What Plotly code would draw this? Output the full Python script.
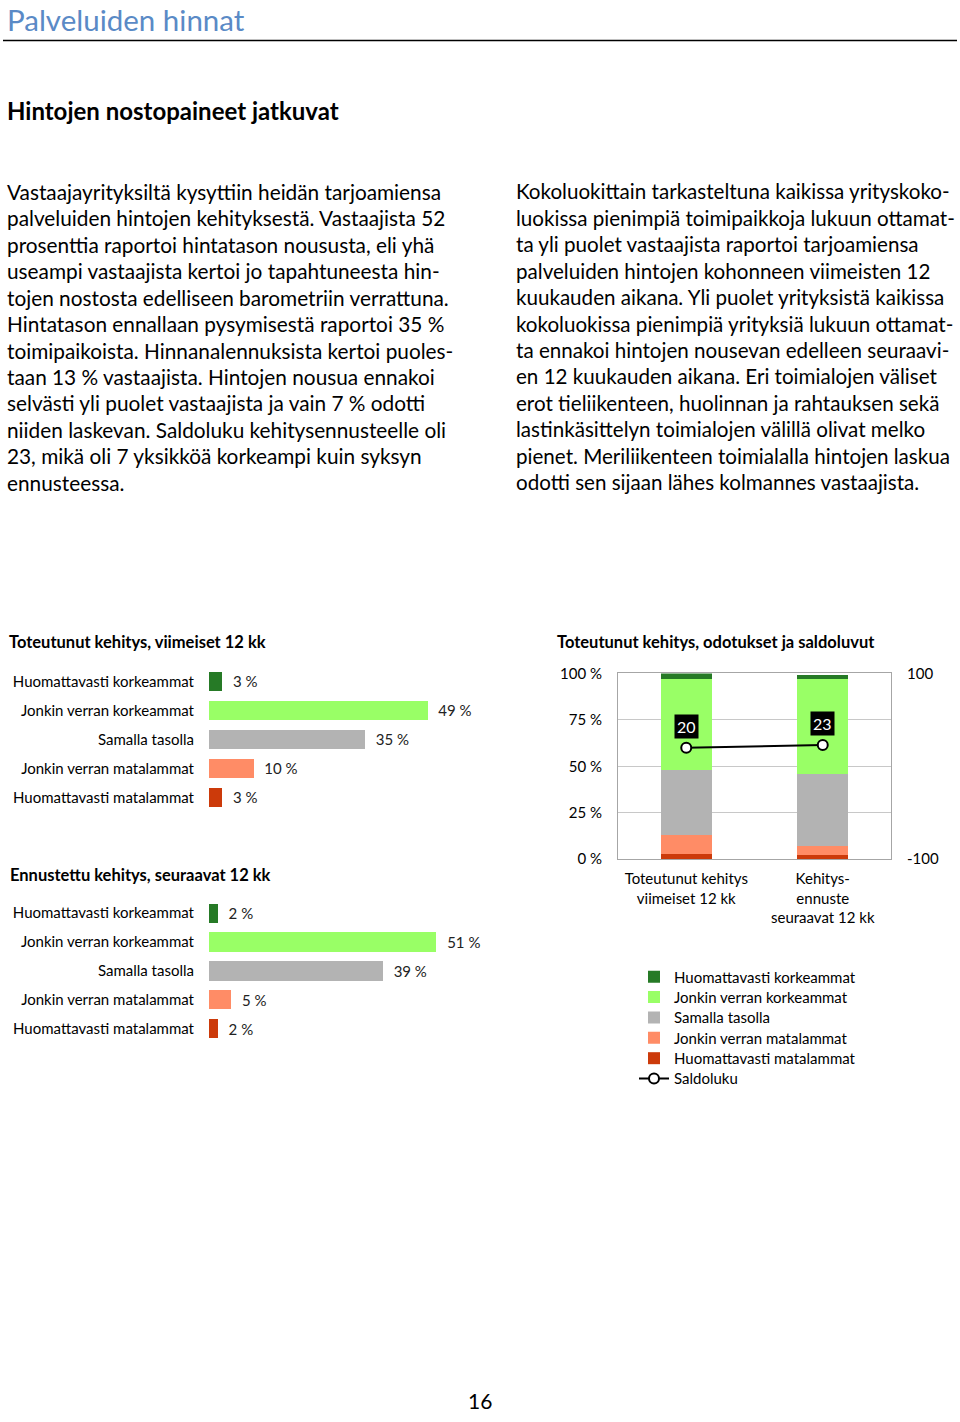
import plotly.graph_objects as go

FONT = "Lato, sans-serif"

# ---------------- data ----------------
categories = ["Huomattavasti korkeammat", "Jonkin verran korkeammat", "Samalla tasolla",
              "Jonkin verran matalammat", "Huomattavasti matalammat"]
realized = [3, 49, 35, 10, 3]
forecast = [2, 51, 39, 5, 2]
colors = ["#267a26", "#99ff66", "#b3b3b3", "#ff8c66", "#cc3a0a"]
stack_categories = ["Toteutunut kehitys<br>viimeiset 12 kk", "Kehitys-<br>ennuste<br>seuraavat 12 kk"]
saldo = [20, 23]
pct_ticks = [0, 25, 50, 75, 100]
pct_ticktext = ["0 %", "25 %", "50 %", "75 %", "100 %"]
saldo_ticks = [-100, 100]
saldo_ticktext = ["-100", "100"]

page_title = "Palveluiden hinnat"
heading = "Hintojen nostopaineet jatkuvat"
chart1_title = "Toteutunut kehitys, viimeiset 12 kk"
chart2_title = "Ennustettu kehitys, seuraavat 12 kk"
chart3_title = "Toteutunut kehitys, odotukset ja saldoluvut"
page_number = "16"

left_lines = [
    "Vastaajayrityksiltä kysyttiin heidän tarjoamiensa",
    "palveluiden hintojen kehityksestä. Vastaajista 52",
    "prosenttia raportoi hintatason noususta, eli yhä",
    "useampi vastaajista kertoi jo tapahtuneesta hin-",
    "tojen nostosta edelliseen barometriin verrattuna.",
    "Hintatason ennallaan pysymisestä raportoi 35 %",
    "toimipaikoista. Hinnanalennuksista kertoi puoles-",
    "taan 13 % vastaajista. Hintojen nousua ennakoi",
    "selvästi yli puolet vastaajista ja vain 7 % odotti",
    "niiden laskevan. Saldoluku kehitysennusteelle oli",
    "23, mikä oli 7 yksikköä korkeampi kuin syksyn",
    "ennusteessa.",
]
right_lines = [
    "Kokoluokittain tarkasteltuna kaikissa yrityskoko-",
    "luokissa pienimpiä toimipaikkoja lukuun ottamat-",
    "ta yli puolet vastaajista raportoi tarjoamiensa",
    "palveluiden hintojen kohonneen viimeisten 12",
    "kuukauden aikana. Yli puolet yrityksistä kaikissa",
    "kokoluokissa pienimpiä yrityksiä lukuun ottamat-",
    "ta ennakoi hintojen nousevan edelleen seuraavi-",
    "en 12 kuukauden aikana. Eri toimialojen väliset",
    "erot tieliikenteen, huolinnan ja rahtauksen sekä",
    "lastinkäsittelyn toimialojen välillä olivat melko",
    "pienet. Meriliikenteen toimialalla hintojen laskua",
    "odotti sen sijaan lähes kolmannes vastaajista.",
]

W, H = 960, 1422
# measured page offset/scale of the photographed page (vertical)
OFF, SC = 8.4, 0.989


def px(x):
    return x / W


def py(y):
    return 1 - ((y - OFF) / SC) / H


fig = go.Figure()

# ---------------- chart 1 & 2: horizontal bars ----------------
for vals, xa, ya in [(realized, "x", "y"), (forecast, "x2", "y2")]:
    fig.add_trace(go.Bar(
        y=categories, x=vals, orientation="h",
        marker=dict(color=colors, line=dict(width=0)),
        width=0.66,
        text=[f"\u00a0\u00a0{v} %" for v in vals], textposition="outside",
        textfont=dict(family=FONT, size=15, color="#222"),
        cliponaxis=False, showlegend=False, hoverinfo="skip",
        xaxis=xa, yaxis=ya,
    ))

# ---------------- chart 3: stacked columns ----------------
legend_rows = [977, 997.4, 1017.8, 1038.2, 1058.6, 1079]
for i in reversed(range(len(categories))):
    fig.add_trace(go.Bar(
        x=stack_categories, y=[realized[i], forecast[i]], name=categories[i],
        marker=dict(color=colors[i], line=dict(width=0)), width=0.375,
        xaxis="x3", yaxis="y3", legend="legend" if i == 0 else f"legend{i + 1}",
        hoverinfo="skip",
    ))

fig.add_trace(go.Scatter(
    x=stack_categories, y=saldo, name="Saldoluku", mode="lines+markers",
    line=dict(color="black", width=2),
    marker=dict(symbol="circle", size=10, color="white", line=dict(color="black", width=2)),
    xaxis="x3", yaxis="y4", legend="legend6", hoverinfo="skip",
))

annotations = []
for c, v in zip(stack_categories, saldo):
    annotations.append(dict(
        xref="x3", yref="y4", x=c, y=v, yshift=21, text=str(v), showarrow=False,
        bgcolor="black", font=dict(family=FONT, size=16, color="white"), borderpad=2,
    ))

# ---------------- page texts ----------------
annotations.append(dict(xref="paper", yref="paper", x=px(5), y=py(18), xanchor="left", yanchor="middle",
                        text=page_title, showarrow=False,
                        font=dict(family=FONT, size=29.5, color="#5a8ac6")))
annotations.append(dict(xref="paper", yref="paper", x=px(5), y=py(109), xanchor="left", yanchor="middle",
                        text=f"<b>{heading}</b>", showarrow=False,
                        font=dict(family=FONT, size=24, color="black")))
for k, line in enumerate(left_lines):
    annotations.append(dict(xref="paper", yref="paper", x=px(5), y=py(190 + 26.5 * k),
                            xanchor="left", yanchor="middle", text=line, showarrow=False,
                            font=dict(family=FONT, size=20.8, color="black")))
for k, line in enumerate(right_lines):
    annotations.append(dict(xref="paper", yref="paper", x=px(514), y=py(190 + 26.5 * k),
                            xanchor="left", yanchor="middle", text=line, showarrow=False,
                            font=dict(family=FONT, size=20.6, color="black")))
for t, xx, yy in [(chart1_title, 7, 641), (chart2_title, 8, 875), (chart3_title, 555, 641)]:
    annotations.append(dict(xref="paper", yref="paper", x=px(xx), y=py(yy), xanchor="left", yanchor="middle",
                            text=f"<b>{t}</b>", showarrow=False,
                            font=dict(family=FONT, size=16.5, color="black")))
annotations.append(dict(xref="paper", yref="paper", x=px(480), y=0, xanchor="center", yanchor="bottom",
                        text=page_number, showarrow=False, borderpad=0,
                        font=dict(family=FONT, size=21, color="black")))

shapes = [dict(type="line", xref="paper", yref="paper", x0=px(3), x1=px(957), y0=py(39), y1=py(39),
               line=dict(color="black", width=1.5))]

hbar_x = dict(range=[0, 60], showgrid=False, showticklabels=False, zeroline=False, showline=False, fixedrange=True)
hbar_y = dict(autorange="reversed", showgrid=False, zeroline=False, showline=False,
              ticks="outside", ticklen=11, tickcolor="rgba(0,0,0,0)",
              tickfont=dict(family=FONT, size=15, color="black"))

legends = {}
for k, row in enumerate(legend_rows):
    key = "legend" if k == 0 else f"legend{k + 1}"
    legends[key] = dict(x=px(634), y=py(row), xanchor="left", yanchor="middle",
                        font=dict(family=FONT, size=15, color="black"), bgcolor="rgba(0,0,0,0)",
                        itemwidth=30)

fig.update_layout(
    width=W, height=H, autosize=False,
    margin=dict(l=0, r=0, t=0, b=0),
    paper_bgcolor="white", plot_bgcolor="white",
    barmode="stack",
    font=dict(family=FONT, color="black"),
    xaxis=dict(domain=[px(209), px(209 + 4.46 * 60)], anchor="y", **hbar_x),
    yaxis=dict(domain=[py(811.5), py(666.5)], anchor="x", **hbar_y),
    xaxis2=dict(domain=[px(209), px(209 + 4.46 * 60)], anchor="y2", **hbar_x),
    yaxis2=dict(domain=[py(1043.5), py(898.5)], anchor="x2", **hbar_y),
    xaxis3=dict(domain=[px(618), px(891)], anchor="y3", showgrid=False, zeroline=False,
                showline=True, mirror=True, linecolor="#a6a6a6", linewidth=1,
                ticks="outside", ticklen=6, tickcolor="rgba(0,0,0,0)",
                tickfont=dict(family=FONT, size=15, color="black")),
    yaxis3=dict(domain=[py(859), py(673)], anchor="x3", range=[0, 100], tickvals=pct_ticks,
                ticktext=pct_ticktext, showgrid=True, gridcolor="#c8c8c8", zeroline=False,
                showline=True, mirror=True, linecolor="#a6a6a6", linewidth=1,
                ticks="outside", ticklen=12, tickcolor="rgba(0,0,0,0)",
                tickfont=dict(family=FONT, size=15, color="black")),
    yaxis4=dict(overlaying="y3", side="right", anchor="x3", range=[-100, 100], tickvals=saldo_ticks,
                ticktext=saldo_ticktext, showgrid=False, zeroline=False, showline=False,
                ticks="outside", ticklen=12, tickcolor="rgba(0,0,0,0)",
                tickfont=dict(family=FONT, size=15, color="black")),
    annotations=annotations,
    shapes=shapes,
    **legends,
)

post = ("var s=document.createElement('style');"
        "s.innerHTML='html,body{margin:0 !important;padding:0 !important;overflow:hidden;}"
        ".plotly-graph-div{display:block;}';"
        "document.head.appendChild(s);")
fig.write_html("out.html", config={"displayModeBar": False}, post_script=post)
